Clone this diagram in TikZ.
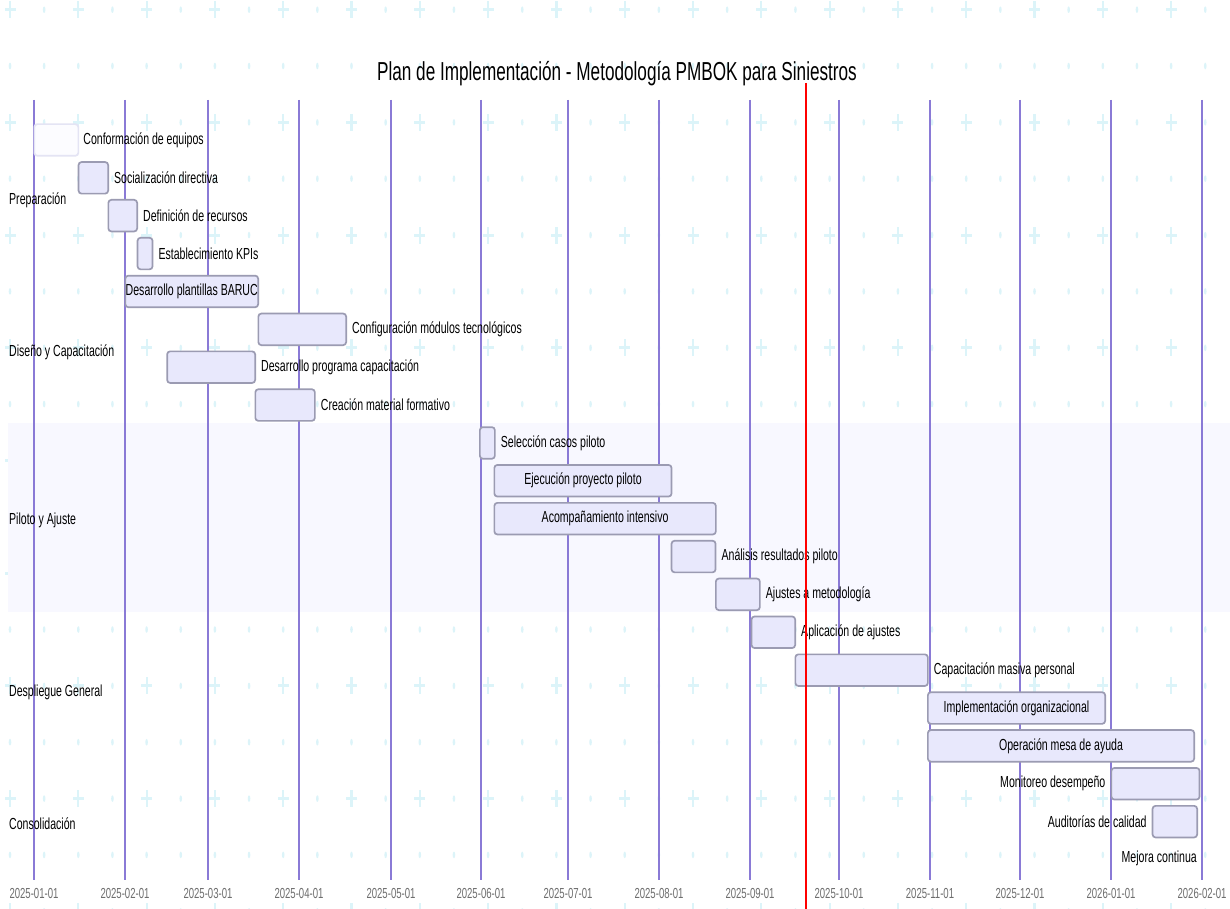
\documentclass[tikz,border=0pt]{standalone}
\usepackage{fontspec}
\setmainfont[FakeStretch=0.66]{Liberation Sans}
\definecolor{patc}{RGB}{220,244,249}
\definecolor{bandc}{RGB}{248,248,255}
\definecolor{gridc}{RGB}{138,122,214}
\definecolor{barc}{RGB}{232,232,252}
\definecolor{bordc}{RGB}{155,155,178}
\definecolor{donefill}{RGB}{252,252,255}
\definecolor{doneborder}{RGB}{228,228,244}
\definecolor{axc}{RGB}{110,110,110}
\tikzset{
  pat/.style={fill=patc},
  gridline/.style={draw=gridc, line width=1.3},
  todayline/.style={draw=red, line width=2},
  bar/.style={draw=bordc, fill=barc, line width=1.7, rounded corners=3, inner sep=0,
    minimum height=31.6, anchor=north west, font=\fontsize{16}{18}\selectfont, text=black},
  donebar/.style={bar, draw=doneborder, fill=donefill},
  lbl/.style={font=\fontsize{16}{18}\selectfont, text=black, inner sep=0},
  seclbl/.style={font=\fontsize{16}{18}\selectfont, text=black, inner sep=0, anchor=west},
  axl/.style={font=\fontsize{14.5}{16}\selectfont, text=axc, inner sep=0},
  titlestyle/.style={font=\fontsize{26}{29}\selectfont, text=black, inner sep=0}
}
\begin{document}
\begin{tikzpicture}[x=1pt, y=-1pt]
\useasboundingbox[fill=white] (0,0) rectangle (1230,909);
% background pattern
\foreach \j in {0,...,8}{
  \foreach \m in {0,...,17}{
    \fill[pat] ({10+68.3*\m-5.5},{9.7+112.7*\j-1.5}) rectangle +(11,3);
    \fill[pat] ({10+68.3*\m-1.1},{9.7+112.7*\j-8.5}) rectangle +(2.2,17);
    \fill[pat] ({44.15+68.3*\m},{9.7+112.7*\j}) ellipse [x radius=1.3, y radius=3.3];
  }}
\foreach \j in {0,...,7}{
  \foreach \k in {0,...,35}{
    \fill[pat] ({10+34.15*\k},{66+112.7*\j}) ellipse [x radius=1.3, y radius=3.3];
  }}
% section band (Piloto y Ajuste)
\fill[bandc] (8,423) rectangle (1230,612);
% grid lines
\foreach \x in {34,125,208,299,391,481,568,659,750,839,930,1020,1111,1202}{
  \draw[gridline] (\x,100) -- (\x,880);
}
% title
\node[titlestyle] (title) at (617,74) {Plan de Implementación - Metodología PMBOK para Siniestros};
% section labels
\node[seclbl] (s1) at (9,200) {Preparación};
\node[seclbl] (s2) at (9,352) {Diseño y Capacitación};
\node[seclbl] (s3) at (9,520) {Piloto y Ajuste};
\node[seclbl] (s4) at (9,692) {Despliegue General};
\node[seclbl] (s5) at (9,824) {Consolidación};
% tasks
\node[donebar, minimum width=44] (t0) at (33.5,123.3) {};
\node[lbl, anchor=west] (l0) at ([xshift=4]t0.east) {Conformación de equipos};
\node[bar, minimum width=29.6] (t1) at (77.7,161.2) {};
\node[lbl, anchor=west] (l1) at ([xshift=5]t1.east) {Socialización directiva};
\node[bar, minimum width=28.8] (t2) at (107.5,199.0) {};
\node[lbl, anchor=west] (l2) at ([xshift=5]t2.east) {Definición de recursos};
\node[bar, minimum width=15] (t3) at (136.7,236.9) {};
\node[lbl, anchor=west] (l3) at ([xshift=5]t3.east) {Establecimiento KPIs};
\node[bar, minimum width=132.8] (t4) at (124.5,274.8) {Desarrollo plantillas BARUC};
\node[bar, minimum width=87.8] (t5) at (257.5,312.7) {};
\node[lbl, anchor=west] (l5) at ([xshift=5]t5.east) {Configuración módulos tecnológicos};
\node[bar, minimum width=88] (t6) at (166.3,350.5) {};
\node[lbl, anchor=west] (l6) at ([xshift=5]t6.east) {Desarrollo programa capacitación};
\node[bar, minimum width=59.5] (t7) at (254.5,388.4) {};
\node[lbl, anchor=west] (l7) at ([xshift=5]t7.east) {Creación material formativo};
\node[bar, minimum width=15] (t8) at (479,426.3) {};
\node[lbl, anchor=west] (l8) at ([xshift=5]t8.east) {Selección casos piloto};
\node[bar, minimum width=177.2] (t9) at (493.5,464.1) {Ejecución proyecto piloto};
\node[bar, minimum width=221.5] (t10) at (493.5,502.0) {Acompañamiento intensivo};
\node[bar, minimum width=44] (t11) at (670.7,539.9) {};
\node[lbl, anchor=west] (l11) at ([xshift=5]t11.east) {Análisis resultados piloto};
\node[bar, minimum width=44] (t12) at (715,577.7) {};
\node[lbl, anchor=west] (l12) at ([xshift=5]t12.east) {Ajustes a metodología};
\node[bar, minimum width=43.6] (t13) at (750.7,615.6) {};
\node[lbl, anchor=west] (l13) at ([xshift=5]t13.east) {Aplicación de ajustes};
\node[bar, minimum width=132.5] (t14) at (794.5,653.5) {};
\node[lbl, anchor=west] (l14) at ([xshift=5]t14.east) {Capacitación masiva personal};
\node[bar, minimum width=177.3] (t15) at (927,691.4) {Implementación organizacional};
\node[bar, minimum width=266.3] (t16) at (927,729.2) {Operación mesa de ayuda};
\node[bar, minimum width=88.2] (t17) at (1110.5,767.1) {};
\node[lbl, anchor=east] (l17) at ([xshift=-5]t17.west) {Monitoreo desempeño};
\node[bar, minimum width=44.6] (t18) at (1151.7,805.0) {};
\node[lbl, anchor=east] (l18) at ([xshift=-5]t18.west) {Auditorías de calidad};
\node[lbl, anchor=east] (l19) at (1197,858.6) {Mejora continua};
% today marker
\draw[todayline] (806,83) -- (806,909);
% axis labels
\node[axl] (d1) at (34,893) {2025-01-01};
\node[axl] (d2) at (125,893) {2025-02-01};
\node[axl] (d3) at (208,893) {2025-03-01};
\node[axl] (d4) at (299,893) {2025-04-01};
\node[axl] (d5) at (391,893) {2025-05-01};
\node[axl] (d6) at (481,893) {2025-06-01};
\node[axl] (d7) at (568,893) {2025-07-01};
\node[axl] (d8) at (659,893) {2025-08-01};
\node[axl] (d9) at (750,893) {2025-09-01};
\node[axl] (d10) at (839,893) {2025-10-01};
\node[axl] (d11) at (930,893) {2025-11-01};
\node[axl] (d12) at (1020,893) {2025-12-01};
\node[axl] (d13) at (1111,893) {2026-01-01};
\node[axl] (d14) at (1202,893) {2026-02-01};
\end{tikzpicture}
\end{document}
